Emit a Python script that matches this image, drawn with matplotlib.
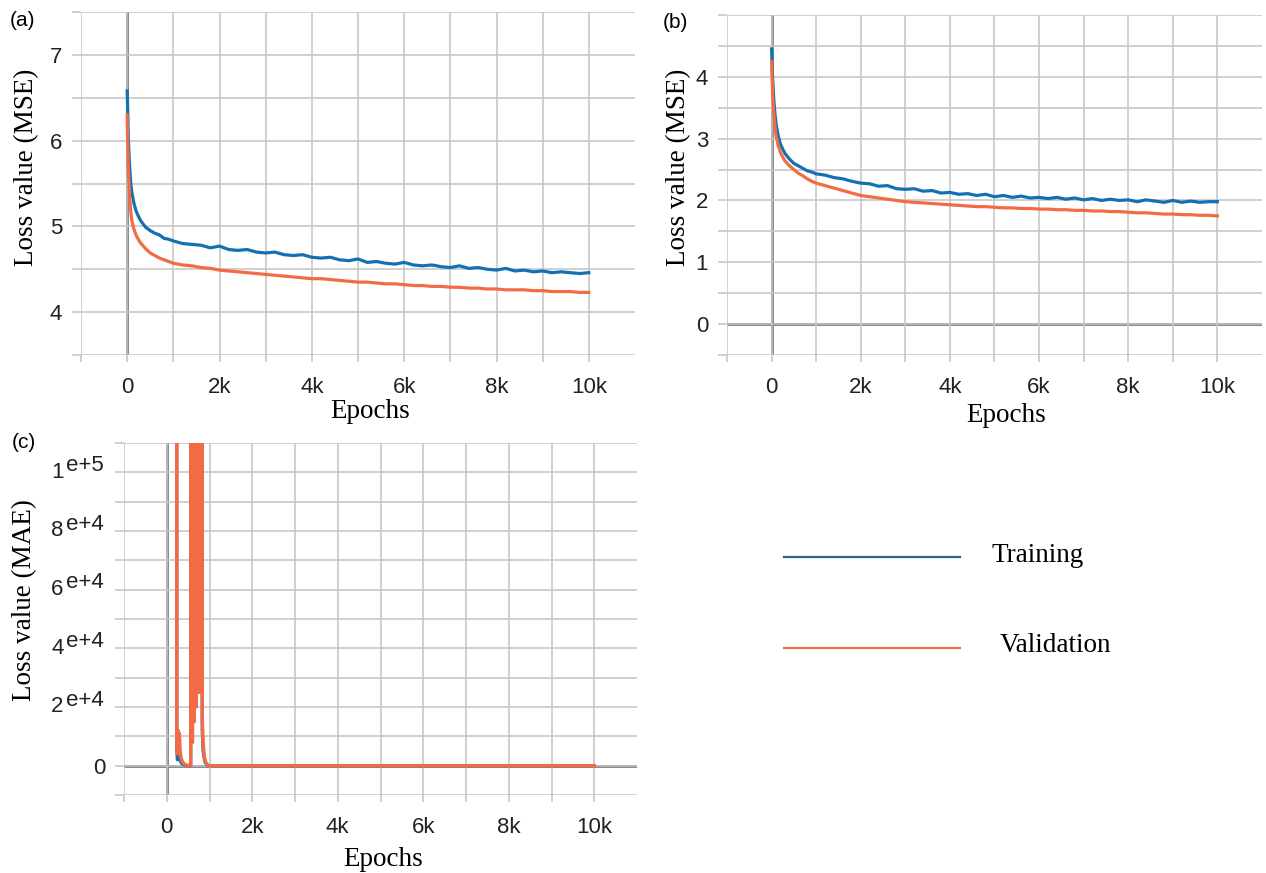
import matplotlib
matplotlib.use("Agg")
import matplotlib.pyplot as plt
from matplotlib.lines import Line2D
from matplotlib.ticker import FuncFormatter

# ---- data ----
epochs = [0, 10, 25, 50, 75, 100, 150, 200, 250, 300, 400, 500, 600, 700, 800, 900, 1000,
          1200, 1400, 1600, 1800, 2000, 2200, 2400, 2600, 2800, 3000, 3200, 3400, 3600, 3800,
          4000, 4200, 4400, 4600, 4800, 5000, 5200, 5400, 5600, 5800, 6000, 6200, 6400, 6600,
          6800, 7000, 7200, 7400, 7600, 7800, 8000, 8200, 8400, 8600, 8800, 9000, 9200, 9400,
          9600, 9800, 10000]

a_train = [6.58, 6.40, 6.02, 5.72, 5.52, 5.40, 5.26, 5.17, 5.11, 5.06, 4.99, 4.95, 4.92, 4.90, 4.86, 4.85, 4.83,
           4.80, 4.79, 4.78, 4.75, 4.77, 4.73, 4.72, 4.73, 4.70, 4.69, 4.70, 4.67, 4.66, 4.67,
           4.64, 4.63, 4.64, 4.61, 4.60, 4.62, 4.58, 4.59, 4.57, 4.56, 4.58, 4.55, 4.54, 4.55,
           4.53, 4.52, 4.54, 4.51, 4.52, 4.50, 4.49, 4.51, 4.48, 4.49, 4.47, 4.48, 4.46, 4.47,
           4.46, 4.45, 4.46]
a_val = [6.30, 6.00, 5.68, 5.38, 5.19, 5.07, 4.96, 4.89, 4.84, 4.80, 4.74, 4.69, 4.66, 4.63, 4.61, 4.59, 4.57,
         4.55, 4.54, 4.52, 4.51, 4.49, 4.48, 4.47, 4.46, 4.45, 4.44, 4.43, 4.42, 4.41, 4.40,
         4.39, 4.39, 4.38, 4.37, 4.36, 4.35, 4.35, 4.34, 4.33, 4.33, 4.32, 4.31, 4.31, 4.30,
         4.30, 4.29, 4.29, 4.28, 4.28, 4.27, 4.27, 4.26, 4.26, 4.26, 4.25, 4.25, 4.24, 4.24,
         4.24, 4.23, 4.23]

b_train = [4.45, 4.24, 3.95, 3.63, 3.40, 3.24, 3.04, 2.91, 2.83, 2.76, 2.67, 2.60, 2.56, 2.52, 2.48, 2.46, 2.43,
           2.41, 2.37, 2.35, 2.31, 2.28, 2.27, 2.23, 2.24, 2.19, 2.18, 2.19, 2.15, 2.16, 2.12,
           2.13, 2.10, 2.11, 2.08, 2.10, 2.06, 2.08, 2.05, 2.07, 2.04, 2.05, 2.03, 2.05, 2.02,
           2.04, 2.01, 2.03, 2.00, 2.02, 2.00, 2.01, 1.98, 2.01, 1.99, 1.97, 2.00, 1.97, 1.99,
           1.97, 1.98, 1.98]
b_val = [4.25, 4.00, 3.70, 3.40, 3.20, 3.05, 2.88, 2.77, 2.70, 2.64, 2.56, 2.50, 2.44, 2.40, 2.35, 2.31, 2.28,
         2.24, 2.20, 2.16, 2.12, 2.08, 2.06, 2.04, 2.02, 2.00, 1.98, 1.97, 1.96, 1.95, 1.94,
         1.93, 1.92, 1.91, 1.90, 1.90, 1.89, 1.88, 1.88, 1.87, 1.87, 1.86, 1.86, 1.85, 1.85,
         1.84, 1.84, 1.83, 1.83, 1.82, 1.82, 1.81, 1.80, 1.80, 1.79, 1.78, 1.78, 1.77, 1.77,
         1.76, 1.76, 1.75]

c_epochs = [0, 100, 215, 235, 250, 265, 280, 295, 310, 330, 360, 400, 440, 480, 520,
            560, 575, 600, 615, 640, 655, 680, 700, 745, 760, 785, 800, 830, 850, 870,
            900, 940, 980, 1000, 2000, 4000, 6000, 8000, 10000]
c_val = [5e6, 5e6, 3e6, 9e3, 4e3, 1.2e4, 6e3, 1.1e4, 5e3, 3e3, 1.5e3, 700, 300, 100, 0,
         0, 3e6, 8e3, 3e6, 1.5e4, 3e6, 2e4, 3e6, 3e6, 2.5e4, 3e6, 2e6, 1.6e4, 8e3, 4e3,
         1.5e3, 500, 100, 0, 0, 0, 0, 0, 0]
c_train = [5e6, 5e6, 3e6, 5e3, 2e3, 6e3, 3e3, 5e3, 2e3, 1.2e3, 600, 300, 100, 50, 0,
           0, 3e6, 8e3, 3e6, 1.5e4, 3e6, 2e4, 3e6, 3e6, 2.5e4, 3e6, 2e6, 1.2e4, 5e3, 3e3,
           1e3, 300, 50, 0, 0, 0, 0, 0, 0]

c_ylabels = [(20000, "2", "e+4"), (40000, "4", "e+4"), (60000, "6", "e+4"),
             (80000, "8", "e+4"), (100000, "1", "e+5")]

BLUE = "#1270b3"
ORANGE = "#f36b45"
GRID = "#c4c4c4"
ZERO = "#7d7d7d"
SANS = "Liberation Sans"
SERIF = "Liberation Serif"

W, H = 1266, 873
fig = plt.figure(figsize=(W / 100, H / 100), dpi=100)


def px_axes(left, top, right, bottom):
    return fig.add_axes([left / W, 1 - bottom / H, (right - left) / W, (bottom - top) / H])


def xfmt(v, pos):
    if v == 0:
        return "0"
    if v > 0 and int(v) % 2000 == 0:
        return f"{int(v) // 1000}k"
    return ""


def style(ax, ylim, ystep, ylab_fmt, zero_h):
    for s in ax.spines.values():
        s.set_visible(False)
    ax.set_xlim(-1000, 11000)
    ax.set_ylim(*ylim)
    ax.set_xticks(list(range(-1000, 10001, 1000)))
    n = int(round((ylim[1] - ylim[0]) / ystep))
    ax.set_yticks([ylim[0] + i * ystep for i in range(n + 1)])
    ax.xaxis.set_major_formatter(FuncFormatter(xfmt))
    ax.yaxis.set_major_formatter(FuncFormatter(ylab_fmt))
    ax.grid(True, color=GRID, lw=1.1)
    ax.tick_params(axis="x", length=5, width=1.1, color=GRID, pad=10.5,
                   labelsize=16, labelcolor="#222222")
    ax.tick_params(axis="y", length=6.5, width=1.1, color=GRID, pad=7,
                   labelsize=16, labelcolor="#222222")
    for lab in ax.get_xticklabels() + ax.get_yticklabels():
        lab.set_family(SANS)
    ax.axvline(0, color=ZERO, lw=2, zorder=1.5)
    if zero_h:
        ax.axhline(0, color=ZERO, lw=2, zorder=1.5)


def int_labels(lo, hi):
    def f(v, pos):
        r = round(v)
        if abs(v - r) < 1e-6 and lo <= r <= hi:
            return str(int(r))
        return ""
    return f


# (a)
ax_a = px_axes(81, 12, 635, 355)
style(ax_a, (3.5, 7.5), 0.5, int_labels(4, 7), False)
ax_a.plot(epochs, a_train, color=BLUE, lw=2.3, zorder=3)
ax_a.plot(epochs, a_val, color=ORANGE, lw=2.3, zorder=4)

# (b)
ax_b = px_axes(727, 15, 1262, 355)
style(ax_b, (-0.5, 5.0), 0.5, int_labels(0, 4), True)
ax_b.plot(epochs, b_train, color=BLUE, lw=2.3, zorder=3)
ax_b.plot(epochs, b_val, color=ORANGE, lw=2.3, zorder=4)

# (c)
ax_c = px_axes(124, 443, 637, 795)
style(ax_c, (-10000, 110000), 10000, lambda v, p: "0" if v == 0 else "", True)
ax_c.plot(c_epochs, c_train, color=BLUE, lw=2.3, zorder=3)
ax_c.plot(c_epochs, c_val, color=ORANGE, lw=2.5, zorder=4)
ytr = ax_c.get_yaxis_transform()
for v, mant, ex in c_ylabels:
    ax_c.annotate(ex, xy=(0, v), xycoords=ytr, xytext=(-14.5, 5), textcoords="offset points",
                  ha="right", va="center", fontsize=16, family=SANS, color="#222222")
    ax_c.annotate(mant, xy=(0, v), xycoords=ytr, xytext=(-43.5, 0), textcoords="offset points",
                  ha="right", va="center", fontsize=16, family=SANS, color="#222222")

# axis labels
lab_kw = dict(family=SERIF, fontsize=19.5, ha="center", va="center")
for x, y, t in [(27, 167, "Loss value (MSE)"), (679, 167, "Loss value (MSE)"),
                (25, 600, "Loss value (MAE)")]:
    fig.text(x / W, 1 - y / H, t, rotation=90, **lab_kw)
for x, y in [(370, 411), (1006, 416), (383, 859)]:
    fig.text(x / W, 1 - y / H, "Epochs", **lab_kw)

# panel letters
for x, y, t in [(10, 21, "(a)"), (663, 22, "(b)"), (12, 442, "(c)")]:
    fig.text(x / W, 1 - y / H, t, family=SANS, fontsize=15, ha="left", va="center")

# legend
fig.add_artist(Line2D([784 / W, 960 / W], [1 - 557 / H] * 2, transform=fig.transFigure,
                      color="#2d5f94", lw=1.6))
fig.add_artist(Line2D([784 / W, 960 / W], [1 - 648 / H] * 2, transform=fig.transFigure,
                      color="#f07040", lw=1.6))
fig.text(992 / W, 1 - 555 / H, "Training", family=SERIF, fontsize=19.5, ha="left", va="center")
fig.text(1000 / W, 1 - 645 / H, "Validation", family=SERIF, fontsize=19.5, ha="left", va="center")

fig.savefig("out.png", dpi=100)
